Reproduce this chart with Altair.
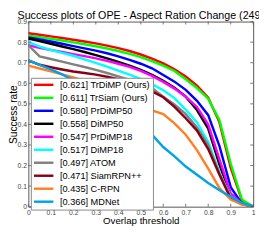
import altair as alt
import pandas as pd

FONT = "Liberation Sans"

title_text = ["Success plots of OPE - Aspect Ration Change (249)"]

thresholds = [0, 0.05, 0.1, 0.15, 0.2, 0.25, 0.3, 0.35, 0.4, 0.45, 0.5,
              0.55, 0.6, 0.65, 0.7, 0.75, 0.8, 0.85, 0.9, 0.95, 1.0]

names = ["[0.621] TrDiMP (Ours)", "[0.611] TrSiam (Ours)", "[0.580] PrDiMP50",
         "[0.558] DiMP50", "[0.547] PrDiMP18", "[0.517] DiMP18", "[0.497] ATOM",
         "[0.471] SiamRPN++", "[0.435] C-RPN", "[0.366] MDNet"]
colors = ["#ff0000", "#00ff00", "#0000ff", "#000000", "#ff00ff", "#00ffff",
          "#808080", "#880015", "#ff7f27", "#00a2e8"]

trdimp = [.843, .836, .828, .820, .812, .803, .794, .783, .771, .757, .740,
          .720, .697, .668, .633, .588, .530, .410, .190, .030, 0]
trsiam = [.831, .824, .816, .808, .799, .790, .780, .769, .757, .743, .727,
          .708, .686, .660, .620, .577, .525, .420, .210, .035, 0]
prdimp50 = [.823, .813, .803, .792, .781, .770, .759, .746, .731, .714, .695,
            .673, .640, .608, .568, .515, .445, .295, .095, .015, 0]
dimp50 = [.818, .805, .792, .779, .766, .752, .737, .721, .704, .686, .665,
          .641, .612, .578, .535, .470, .380, .205, .055, .015, 0]
prdimp18 = [.785, .772, .762, .752, .742, .732, .721, .709, .695, .680, .660,
            .636, .607, .574, .535, .485, .400, .230, .065, .015, 0]
dimp18 = [.800, .778, .762, .748, .734, .716, .699, .681, .662, .642, .620,
          .596, .566, .528, .472, .410, .315, .165, .048, .015, 0]
atom = [.785, .731, .718, .705, .692, .679, .665, .650, .634, .617, .598,
        .577, .535, .497, .450, .385, .300, .160, .045, .015, 0]
siamrpn = [.712, .690, .678, .667, .657, .650, .642, .632, .620, .605, .585,
           .561, .532, .485, .430, .370, .280, .155, .040, .012, 0]
crpn = [.686, .672, .658, .643, .628, .612, .596, .573, .550, .520, .495,
        .468, .450, .405, .350, .275, .185, .090, .035, .010, 0]
mdnet = [.711, .690, .668, .643, .615, .585, .553, .518, .480, .440, .390,
         .350, .290, .245, .195, .155, .115, .080, .048, .018, 0]

curves = [trdimp, trsiam, prdimp50, dimp50, prdimp18, dimp18, atom, siamrpn, crpn, mdnet]

x_ticks = [0, 0.1, 0.2, 0.3, 0.4, 0.5, 0.6, 0.7, 0.8, 0.9, 1.0]
y_ticks = [0, 0.1, 0.2, 0.3, 0.4, 0.5, 0.6, 0.7, 0.8, 0.9]

rows = []
for n, c in zip(names, curves):
    for t, v in zip(thresholds, c):
        rows.append({"name": n, "t": t, "v": v})
df = pd.DataFrame(rows)

W, H = 232, 191
TICK = "#555555"

xscale = alt.Scale(domain=[0, 1], nice=False, zero=False)
yscale = alt.Scale(domain=[0, 0.9], nice=False)

xaxis = alt.Axis(title="Overlap threshold", values=x_ticks, format="~g", grid=False,
                 domain=False, ticks=False, labelFontSize=7, labelColor="#444444",
                 labelPadding=2, labelFont=FONT, labelFlush=False, labelOverlap=False,
                 titleFont=FONT, titleFontSize=10, titleFontWeight="normal",
                 titleColor="black", titleBaseline="alphabetic", titleY=17.4)
yaxis = alt.Axis(title="Success rate", values=y_ticks, format="~g", grid=False,
                 domain=False, ticks=False, labelFontSize=7, labelColor="#444444",
                 labelPadding=2, labelFont=FONT, labelFlush=False, labelOverlap=False,
                 titleFont=FONT, titleFontSize=10.5, titleFontWeight="normal",
                 titleColor="black", titleAngle=270, titleX=-12.7, titleY=H / 2,
                 titleBaseline="alphabetic", titleAlign="center")

legend = alt.Legend(title=None, orient="none", legendX=2.6, legendY=58,
                    symbolType="M-4,0H4", symbolSize=25, symbolStrokeWidth=2.5,
                    symbolOffset=6, labelOffset=12, labelFont=FONT, labelFontSize=9.5,
                    labelColor="black", rowPadding=2.4, padding=2.5,
                    fillColor="white", strokeColor="#888888", labelLimit=200)

color = alt.Color("name:N", scale=alt.Scale(domain=names, range=colors), legend=legend)

base = alt.Chart(df)
line_layers = []
for n in names:
    line_layers.append(
        base.transform_filter(alt.datum.name == n)
        .mark_line(strokeWidth=2.5, clip=True)
        .encode(x=alt.X("t:Q", scale=xscale, axis=xaxis),
                y=alt.Y("v:Q", scale=yscale, axis=yaxis),
                color=color)
    )

xt = pd.DataFrame({"tx": x_ticks})
yt = pd.DataFrame({"ty": y_ticks})
tick_layers = [
    alt.Chart(xt).mark_rule(color=TICK, strokeWidth=0.8).encode(
        x=alt.X("tx:Q", scale=xscale, axis=xaxis), y=alt.value(H), y2=alt.value(H - 3)),
    alt.Chart(xt).mark_rule(color=TICK, strokeWidth=0.8).encode(
        x=alt.X("tx:Q", scale=xscale, axis=xaxis), y=alt.value(0), y2=alt.value(3)),
    alt.Chart(yt).mark_rule(color=TICK, strokeWidth=0.8).encode(
        y=alt.Y("ty:Q", scale=yscale, axis=yaxis), x=alt.value(0), x2=alt.value(3)),
    alt.Chart(yt).mark_rule(color=TICK, strokeWidth=0.8).encode(
        y=alt.Y("ty:Q", scale=yscale, axis=yaxis), x=alt.value(W), x2=alt.value(W - 3)),
]

title_layer = alt.Chart(pd.DataFrame({"title": title_text})).mark_text(
    font=FONT, fontSize=11, color="black", align="center", baseline="alphabetic"
).encode(text="title:N", x=alt.value(W / 2), y=alt.value(-2.2))

chart = alt.layer(*line_layers, *tick_layers, title_layer).properties(
    width=W, height=H,
    autosize=alt.AutoSizeParams(type="none"),
    padding={"left": 21, "top": 10.5, "right": 6, "bottom": 19.5},
).configure_view(stroke="#555555", strokeWidth=1)

chart.save("out.html", embed_options={"renderer": "svg", "actions": False})
